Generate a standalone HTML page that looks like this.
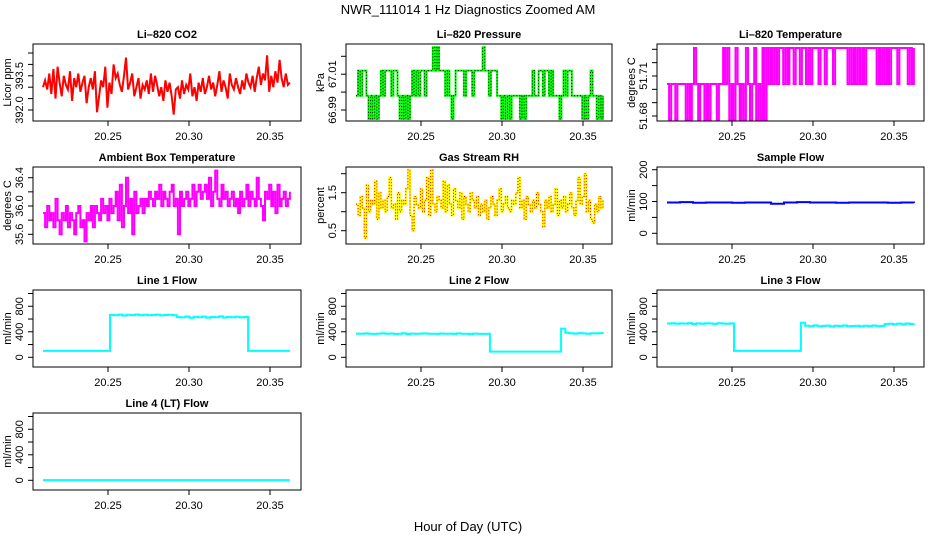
<!DOCTYPE html>
<html><head><meta charset="utf-8"><style>
html,body{margin:0;padding:0;background:#fff;}
svg{display:block;font-family:"Liberation Sans",sans-serif;}
</style></head><body>
<svg id="c" width="936" height="540" viewBox="0 0 936 540">
<text x="468" y="14" text-anchor="middle" font-size="13">NWR_111014  1 Hz Diagnostics Zoomed AM</text>
<text x="468" y="531" text-anchor="middle" font-size="13">Hour of Day (UTC)</text>
</svg>
<script>
const xTicks=[20.25,20.30,20.35];
const xTickLabels=["20.25","20.30","20.35"];
const tStart=20.2099, tEnd=20.3623;
const co2=[393.0,393.3,392.9,393.6,392.7,393.8,392.5,393.9,393.2,392.6,393.5,393.1,392.9,393.7,392.4,393.4,393.0,393.6,392.8,393.2,
393.5,392.3,393.0,393.4,392.9,393.7,391.9,392.6,393.3,393.0,393.9,392.1,393.2,392.7,394.0,393.4,393.6,393.1,392.8,393.5,
394.3,392.9,393.2,393.6,392.6,393.0,393.4,392.5,393.1,392.9,393.3,392.7,393.6,392.8,393.5,393.1,392.6,393.0,392.4,393.3,
392.8,393.2,392.6,391.8,392.9,393.0,392.5,393.3,392.7,393.1,392.9,393.6,392.6,393.0,392.4,393.2,392.8,393.4,392.7,393.0,
393.5,392.9,393.2,392.6,393.1,393.7,392.8,393.3,393.0,392.5,393.6,393.1,392.9,393.4,393.0,392.7,393.3,392.9,393.6,393.2,
393.0,393.5,392.8,393.4,393.9,393.1,393.6,393.3,394.4,392.8,393.5,393.0,393.7,393.2,394.2,393.4,393.0,393.6,393.1,393.2];
const pressure=[66.998,67.012,66.998,67.012,67.012,66.998,66.985,66.998,66.985,66.998,66.985,66.998,67.012,66.998,67.012,67.012,67.012,66.998,67.012,67.012,
66.998,66.985,66.998,66.985,66.998,66.985,66.998,67.012,66.998,67.012,66.998,67.012,67.012,66.998,67.012,67.012,67.012,67.025,67.012,67.025,
67.012,67.012,67.012,66.998,67.012,66.998,66.985,66.998,67.012,67.012,67.012,67.012,66.998,67.012,67.012,67.012,66.998,67.012,67.012,67.012,
67.012,67.025,67.012,67.012,66.998,67.012,67.012,67.012,66.998,66.998,66.985,66.998,66.985,66.998,66.985,66.998,66.998,66.998,66.998,66.985,
66.998,66.985,66.998,66.998,66.998,67.012,66.998,66.998,67.012,67.012,66.998,67.012,67.012,66.998,67.012,66.998,66.998,66.998,66.985,66.998,
67.012,66.998,67.012,67.012,66.998,66.998,66.998,66.998,66.998,66.985,66.998,66.985,66.998,67.012,66.998,66.998,66.985,66.998,66.985,66.998];
const licorTemp=[51.704,51.677,51.704,51.704,51.677,51.704,51.704,51.704,51.704,51.677,51.704,51.677,51.704,51.731,51.704,51.677,51.704,51.704,51.677,51.704,
51.677,51.704,51.704,51.704,51.677,51.704,51.704,51.731,51.704,51.731,51.677,51.704,51.677,51.731,51.704,51.677,51.704,51.677,51.731,51.704,
51.677,51.704,51.731,51.677,51.704,51.677,51.731,51.677,51.731,51.704,51.731,51.704,51.731,51.704,51.731,51.731,51.704,51.731,51.704,51.731,
51.731,51.704,51.731,51.731,51.704,51.731,51.731,51.704,51.731,51.704,51.731,51.731,51.731,51.704,51.731,51.731,51.704,51.731,51.731,51.731,
51.704,51.731,51.731,51.731,51.731,51.731,51.731,51.704,51.731,51.704,51.731,51.704,51.731,51.704,51.731,51.704,51.731,51.731,51.731,51.731,
51.731,51.704,51.731,51.704,51.731,51.704,51.731,51.704,51.731,51.731,51.731,51.704,51.731,51.731,51.731,51.731,51.704,51.731,51.704,51.731];
const ambient=[35.9,35.7,36.0,35.8,35.9,35.7,36.1,35.8,35.6,35.9,35.8,36.0,35.7,35.9,35.8,35.6,35.9,36.0,35.7,35.8,
35.5,35.9,35.8,36.0,35.7,36.0,35.9,35.8,36.1,35.9,36.0,35.8,36.1,35.9,36.0,36.2,35.8,36.3,35.7,36.0,
36.4,35.9,36.1,35.6,36.2,35.9,36.0,36.1,35.9,36.1,36.0,36.2,36.1,36.0,36.2,36.1,36.3,36.0,36.2,36.1,
36.0,36.2,36.3,36.0,36.1,35.6,36.2,36.0,36.1,36.2,36.0,36.1,36.3,36.0,36.2,36.3,36.1,36.2,36.3,36.1,
36.4,36.0,36.2,36.5,36.1,36.0,36.3,36.1,36.2,36.0,36.1,36.2,36.0,36.1,35.9,36.2,36.0,36.1,36.3,36.0,
36.2,36.1,36.0,36.4,36.1,36.0,35.8,36.2,36.1,36.3,36.0,36.2,35.9,36.3,36.0,36.1,36.2,36.0,36.1,36.2];
const rh=[1.2,0.9,1.4,1.1,0.3,1.7,1.0,1.3,1.2,1.8,0.8,1.5,1.1,1.3,1.0,1.4,1.9,1.1,1.2,0.8,
1.5,1.0,1.3,1.2,1.6,2.1,0.9,0.5,1.4,1.2,1.1,1.6,1.0,1.3,1.9,0.9,2.1,1.2,1.0,1.4,
1.3,1.1,1.8,1.0,1.7,1.2,0.9,1.6,1.3,1.1,1.5,0.8,1.4,1.2,1.0,1.5,1.3,1.1,1.4,0.9,
1.2,1.0,1.3,0.8,1.1,1.4,1.2,0.9,1.3,1.6,1.0,1.2,1.4,1.1,1.0,1.3,1.2,1.5,1.9,1.1,
1.3,0.8,1.4,1.2,1.0,1.3,1.1,1.5,1.2,1.0,0.6,1.3,1.1,1.4,1.0,1.2,1.6,0.9,1.3,1.1,
1.4,1.0,1.2,1.5,1.1,0.9,1.3,1.9,1.2,1.4,2.0,1.0,1.3,0.8,0.7,1.2,1.0,1.4,1.1,1.3];
const sampleFlow=[97,98,96,97,97,96,97,97,93,97,98,97,97,96,97,97,97,96,97,95];
const line1Flow=[100,100,100,100,100,100,100,100,100,100,100,100,100,100,100,100,
665,660,670,655,668,662,671,658,666,660,664,669,657,663,667,660,
630,625,640,620,635,628,638,622,632,627,641,624,633,629,636,626,631,
100,100,100,100,100,100,100,100,100,100,100];
const line2Flow=[372,368,375,370,366,371,374,369,373,367,370,376,365,372,369,371,374,368,370,366,373,369,371,367,375,368,370,364,372,369,366,368,
90,90,90,90,90,90,90,90,90,90,90,90,90,90,90,90,90,
450,385,378,372,380,375,370,377,374,379,373];
const line3Flow=[530,535,525,532,528,536,522,531,527,534,529,524,533,530,526,532,
100,100,100,100,100,100,100,100,100,100,100,100,100,100,100,100,
540,495,488,500,485,492,497,483,494,489,499,486,491,496,484,493,488,498,487,492,
520,526,515,528,518,530,522,527];
const line4Flow=[3,3,3,3,3,3,3,3,3,3,3,3];

const svg=document.getElementById('c');
const NS='http://www.w3.org/2000/svg';
function mk(tag,attrs,parent){const e=document.createElementNS(NS,tag);for(const k in attrs)e.setAttribute(k,attrs[k]);(parent||svg).appendChild(e);return e;}
const colL=[33,346,657], colR=[301,612,924], rowT=[44,167,290,413], H=77;
// x scale: 20.25 at box left+75, 0.05 = 81px
function xs(col,t){return colL[col]+75+(t-20.25)*1620;}

const panels=[
 {name:'li820-co2',title:'Li\u2013820 CO2',ylab:'Licor ppm',col:0,row:0,data:co2,color:'#ff0000',v0:392.0,p0:110,v1:394.5,p1:53,
  ticks:[392.0,392.5,393.0,393.5,394.0,394.5],labels:{'392.0':1,'393.5':1},dec:1},
 {name:'li820-pressure',title:'Li\u2013820 Pressure',ylab:'kPa',col:1,row:0,data:pressure,color:'#00ff00',dots:'#000',v0:66.99,p0:110,v1:67.02,p1:56.3,
  ticks:[66.99,67.00,67.01,67.02],labels:{'66.99':1,'67.01':1},dec:2,step:true},
 {name:'li820-temperature',title:'Li\u2013820 Temperature',ylab:'degrees C',col:2,row:0,data:licorTemp,color:'#ff00ff',v0:51.68,p0:116,v1:51.73,p1:49.3,
  ticks:[51.68,51.69,51.70,51.71,51.72,51.73],labels:{'51.68':1,'51.71':1},dec:2,step:true},
 {name:'ambient-box-temperature',title:'Ambient Box Temperature',ylab:'degrees C',col:0,row:1,data:ambient,color:'#ff00ff',v0:35.6,p0:234.3,v1:36.4,p1:177.7,
  ticks:[35.6,35.8,36.0,36.2,36.4],labels:{'35.6':1,'36.0':1,'36.4':1},dec:1,step:true},
 {name:'gas-stream-rh',title:'Gas Stream RH',ylab:'percent',col:1,row:1,data:rh,color:'#ffff00',dots:'#ff0000',v0:0.5,p0:230.7,v1:2.0,p1:173.7,
  ticks:[0.5,1.0,1.5,2.0],labels:{'0.5':1,'1.5':1},dec:1,step:true},
 {name:'sample-flow',title:'Sample Flow',ylab:'ml/min',col:2,row:1,data:sampleFlow,color:'#0000ff',v0:0,p0:233.3,v1:200,p1:169.7,
  ticks:[0,50,100,150,200],labels:{'0':1,'100':1,'200':1},dec:0,step:true},
 {name:'line1-flow',title:'Line 1 Flow',ylab:'ml/min',col:0,row:2,data:line1Flow,color:'#00ffff',v0:0,p0:357.3,v1:1000,p1:293.5,
  ticks:[0,200,400,600,800,1000],labels:{'0':1,'400':1,'800':1},dec:0,step:true},
 {name:'line2-flow',title:'Line 2 Flow',ylab:'ml/min',col:1,row:2,data:line2Flow,color:'#00ffff',v0:0,p0:357.3,v1:1000,p1:293.5,
  ticks:[0,200,400,600,800,1000],labels:{'0':1,'400':1,'800':1},dec:0,step:true},
 {name:'line3-flow',title:'Line 3 Flow',ylab:'ml/min',col:2,row:2,data:line3Flow,color:'#00ffff',v0:0,p0:357.3,v1:1000,p1:293.5,
  ticks:[0,200,400,600,800,1000],labels:{'0':1,'400':1,'800':1},dec:0,step:true},
 {name:'line4-flow',title:'Line 4 (LT) Flow',ylab:'ml/min',col:0,row:3,data:line4Flow,color:'#00ffff',v0:0,p0:480.3,v1:1000,p1:416.5,
  ticks:[0,200,400,600,800,1000],labels:{'0':1,'400':1,'800':1},dec:0,step:true}
];

panels.forEach(p=>{
  const L=colL[p.col],R=colR[p.col],T=rowT[p.row],B=T+H;
  const ys=v=>p.p0+(v-p.v0)*(p.p1-p.p0)/(p.v1-p.v0);
  const g=mk('g',{});
  
  
  const ti=mk('text',{x:(L+R)/2,y:T-6,'text-anchor':'middle','font-size':11,'font-weight':'bold'},g);
  ti.textContent=p.title;
  
  
  // series
  const n=p.data.length;
  const xt=i=>xs(p.col,tStart+(tEnd-tStart)*i/(n-1));
  let d='';
  p.data.forEach((v,i)=>{
    const x=xt(i).toFixed(1),y=ys(v).toFixed(1);
    if(i===0)d+='M'+x+' '+y;
    else if(p.step&&(n<80)){d+='H'+x+'V'+y;}
    else if(p.step){d+='H'+x+'V'+y;}
    else d+='L'+x+' '+y;
  });
  const clip='clip-'+p.name;
  const cp=mk('clipPath',{id:clip},g);mk('rect',{x:L,y:T,width:R-L,height:H},cp);
  const path=mk('path',{d:d,fill:'none',stroke:p.color,'stroke-width':2,'clip-path':'url(#'+clip+')'},g);
  
  
  if(p.dots){
    const dp=mk('path',{d:d,fill:'none',stroke:p.dots,'stroke-width':1,'stroke-dasharray':'1 2','clip-path':'url(#'+clip+')'},g);
    
    
  }
  // box
  const bx=mk('rect',{x:L,y:T,width:R-L,height:H,fill:'none',stroke:'#000','stroke-width':1},g);
  
  
  // x axis
  const xa=mk('g',{},g);
  
  
  xTicks.forEach((t,i)=>{
    const x=xs(p.col,t);
    mk('line',{x1:x,y1:B,x2:x,y2:B+5,stroke:'#000'},xa);
    const tx=mk('text',{x:x,y:B+19,'text-anchor':'middle','font-size':11},xa);
    tx.textContent=xTickLabels[i];
    
    
  });
  // y axis
  const ya=mk('g',{},g);
  
  
  const yt0=ys(p.ticks[0]),yt1=ys(p.ticks[p.ticks.length-1]);
  mk('line',{x1:L,y1:yt0,x2:L,y2:yt1,stroke:'#000'},ya);
  p.ticks.forEach(v=>{
    const y=ys(v);
    mk('line',{x1:L-5,y1:y,x2:L,y2:y,stroke:'#000'},ya);
    const s=v.toFixed(p.dec);
    if(p.labels[s]){
      const tx=mk('text',{x:L-10,y:y,'text-anchor':'middle','font-size':11,transform:'rotate(-90 '+(L-10)+' '+y+')'},ya);
      tx.textContent=s;
      
      
    }
  });
  const yl=mk('text',{x:L-22,y:(T+B)/2,'text-anchor':'middle','font-size':11,transform:'rotate(-90 '+(L-22)+' '+((T+B)/2)+')'},g);
  yl.textContent=p.ylab;
  
  
});
</script>
</body></html>
